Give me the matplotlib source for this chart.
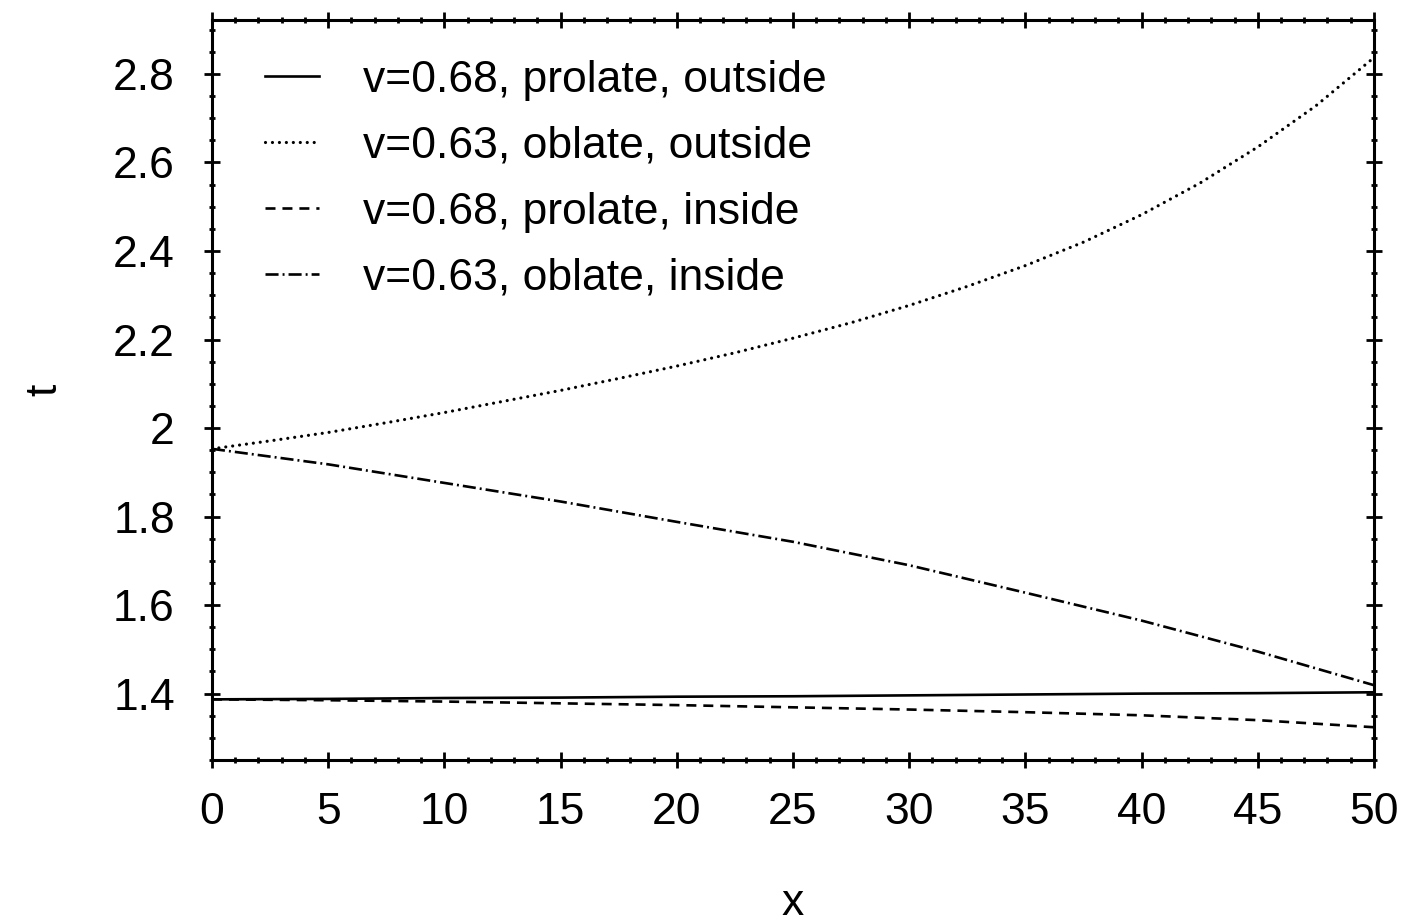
import matplotlib.pyplot as plt
from matplotlib.ticker import MultipleLocator, FuncFormatter

plt.rcParams['font.family'] = ['Liberation Sans', 'DejaVu Sans']
plt.rcParams['lines.scale_dashes'] = False

# values, t at x = 0, 5, ..., 50
x = [0, 5, 10, 15, 20, 25, 30, 35, 40, 45, 50]
t_prolate_out = [1.387, 1.388, 1.390, 1.391, 1.393, 1.394, 1.396, 1.398, 1.400, 1.401, 1.403]
t_prolate_in = [1.387, 1.385, 1.382, 1.378, 1.374, 1.369, 1.364, 1.358, 1.351, 1.340, 1.324]
t_oblate_in = [1.953, 1.918, 1.876, 1.834, 1.788, 1.743, 1.690, 1.628, 1.565, 1.495, 1.419]

# the curved one is read at a finer step
x_fine = [0, 2.5, 5, 7.5, 10, 12.5, 15, 17.5, 20, 22.5, 25,
          27.5, 30, 32.5, 35, 37.5, 40, 42.5, 45, 47.5, 50]
t_oblate_out = [1.953, 1.971, 1.990, 2.012, 2.035, 2.060, 2.085, 2.112, 2.140, 2.170, 2.203,
                2.238, 2.277, 2.320, 2.367, 2.420, 2.482, 2.553, 2.635, 2.728, 2.837]

labels = [
    "v=0.68, prolate, outside",
    "v=0.63, oblate, outside",
    "v=0.68, prolate, inside",
    "v=0.63, oblate, inside",
]

fig = plt.figure(figsize=(14.01, 9.24), dpi=100)
ax = fig.add_axes([0.1513, 0.1775, 0.8294, 0.8009])

lw = 1.9
ax.plot(x, t_prolate_out, color="black", lw=lw, label=labels[0])
ax.plot(x_fine, t_oblate_out, color="black", lw=2.3, dashes=(0.01, 5.0),
        dash_capstyle="round", label=labels[1])
ax.plot(x, t_prolate_in, color="black", lw=lw, dashes=(7.2, 5.0), label=labels[2])
ax.plot(x, t_oblate_in, color="black", lw=lw, dashes=(9.4, 2.9, 1.4, 2.9), label=labels[3])

ax.set_xlim(0, 50)
ax.set_ylim(1.25, 2.922)

ax.xaxis.set_major_locator(MultipleLocator(5))
ax.xaxis.set_minor_locator(MultipleLocator(1))
ax.yaxis.set_major_locator(MultipleLocator(0.2))
ax.yaxis.set_minor_locator(MultipleLocator(0.05))
ax.yaxis.set_major_formatter(FuncFormatter(lambda v, p: f"{v:g}"))
ax.xaxis.set_major_formatter(FuncFormatter(lambda v, p: f"{v:g}"))

for side in ax.spines.values():
    side.set_linewidth(2.2)

ax.tick_params(which="both", direction="inout", top=True, right=True,
               labelsize=32, width=2.0)
ax.tick_params(which="major", length=11.5)
ax.tick_params(which="minor", length=4.5)
ax.tick_params(axis="x", which="major", pad=17)
ax.tick_params(axis="y", which="major", pad=21)

ax.set_xlabel("x", fontsize=32, labelpad=36)
ax.set_ylabel("t", fontsize=32, labelpad=34)

ax.legend(loc="upper left", bbox_to_anchor=(0.0, 1.018), frameon=False,
          fontsize=32, handlelength=1.2, handletextpad=1.0, labelspacing=0.56,
          borderaxespad=0.6, borderpad=0.6)

fig.savefig("out.png", dpi=100)
